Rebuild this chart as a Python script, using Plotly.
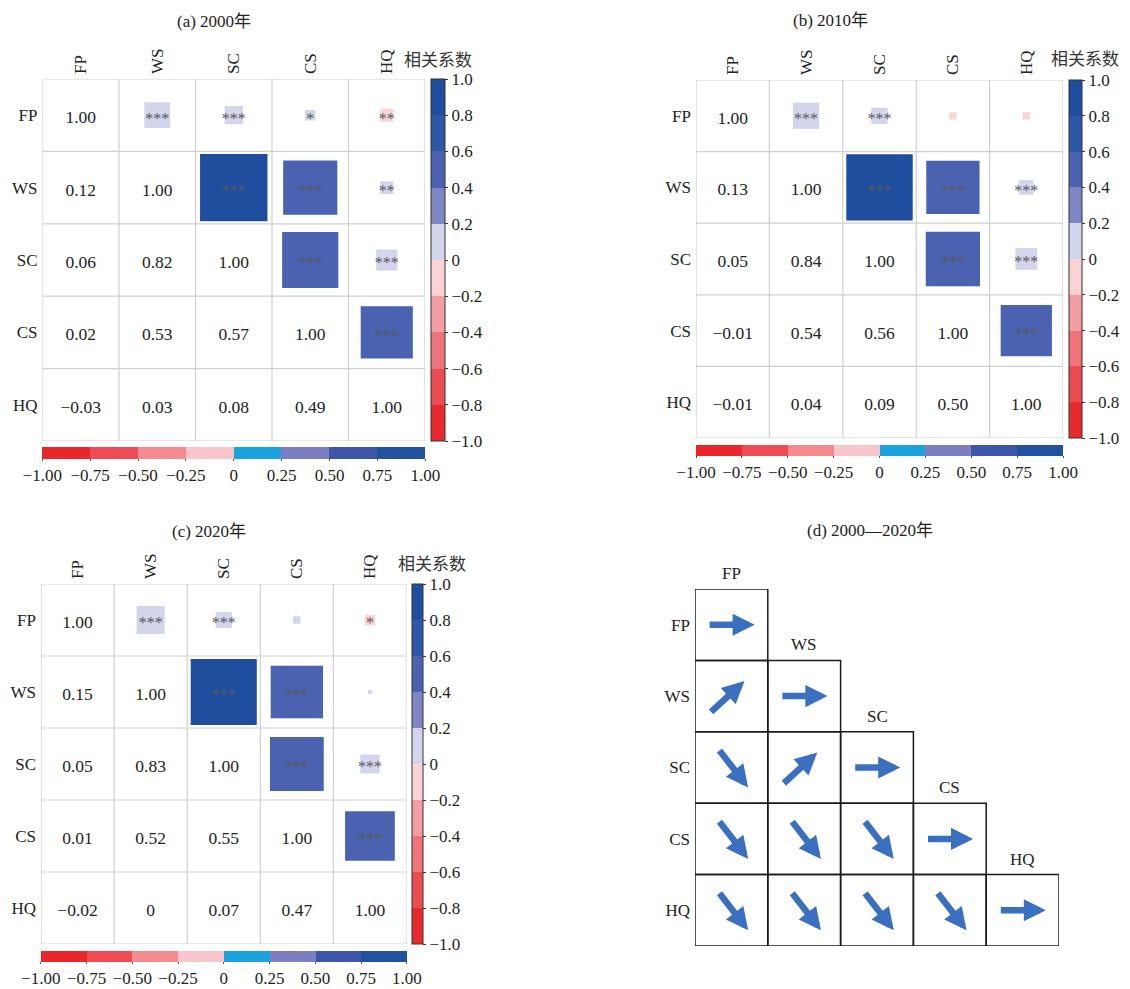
import numpy as np
import plotly.graph_objects as go

W, H = 1130, 989
FONT = "Liberation Serif, 'Noto Sans CJK SC', serif"

VARS = ["FP", "WS", "SC", "CS", "HQ"]

# lower-triangle correlation coefficients (row i, columns 0..i-1)
R2000_LOWER = [[0.12], [0.06, 0.82], [0.02, 0.53, 0.57], [-0.03, 0.03, 0.08, 0.49]]
R2010_LOWER = [[0.13], [0.05, 0.84], [-0.01, 0.54, 0.56], [-0.01, 0.04, 0.09, 0.50]]
R2020_LOWER = [[0.15], [0.05, 0.83], [0.01, 0.52, 0.55], [-0.02, 0.00, 0.07, 0.47]]

# significance marks for upper triangle (row i, columns i+1..4)
SIG2000 = [["***", "***", "*", "**"], ["***", "***", "**"], ["***", "***"], ["***"]]
SIG2010 = [["***", "***", "", ""], ["***", "***", "***"], ["***", "***"], ["***"]]
SIG2020 = [["***", "***", "", "*"], ["***", "***", ""], ["***", "***"], ["***"]]

TITLES = ["(a) 2000年", "(b) 2010年", "(c) 2020年"]
TITLE_D = "(d) 2000—2020年"
CB_TITLE = "相关系数"

RIGHT_TICKS = [1.0, 0.8, 0.6, 0.4, 0.2, 0.0, -0.2, -0.4, -0.6, -0.8, -1.0]
BOTTOM_TICKS = [-1.0, -0.75, -0.5, -0.25, 0.0, 0.25, 0.5, 0.75, 1.0]

# trend of correlation 2000-2020 (lower triangle incl. diagonal)
TREND = [["flat"],
         ["up", "flat"],
         ["down", "up", "flat"],
         ["down", "down", "down", "flat"],
         ["down", "down", "down", "down", "flat"]]

RIGHT_COLORS = ["#E82A2E", "#EB4C52", "#EF7378", "#F39EA2", "#FBD3D4",
                "#D3D5EC", "#7F86C4", "#4A62B0", "#2D57A7", "#1F4E9E"]
BOTTOM_COLORS = ["#E8262B", "#EE4B55", "#F28A8F", "#F8C6CA",
                 "#1BA4DC", "#7B7FC0", "#3E56A9", "#2152A0"]


def discrete_scale(colors):
    n = len(colors)
    cs = []
    for k, c in enumerate(colors):
        cs.append([k / n, c])
        cs.append([(k + 1) / n, c])
    return cs


def fmt(v):
    if v == 0:
        return "0"
    return f"{v:.2f}".replace("-", "\u2212")


def fmt_tick(v, nd):
    if abs(v) < 1e-9:
        return "0"
    return f"{v:.{nd}f}".replace("-", "\u2212")


def full_matrix(lower):
    n = len(VARS)
    m = np.eye(n)
    for i, row in enumerate(lower):
        for j, v in enumerate(row):
            m[i + 1, j] = v
            m[j, i + 1] = v
    return m


# panel geometry in pixels
PANELS = [
    dict(grid=(42.5, 79, 425, 441), rcb=(430.5, 444.5), bcb=(447, 459),
         title=(214, 21), cbt=(438, 61)),
    dict(grid=(696, 80, 1063, 438), rcb=(1069, 1082), bcb=(445, 456),
         title=(830, 20), cbt=(1085, 59)),
    dict(grid=(41, 584, 406.5, 944), rcb=(411.5, 422.5), bcb=(951, 962),
         title=(209, 531), cbt=(432, 564)),
]
GRID_D = (695, 589, 1059, 946)

fig = go.Figure()
shapes = []
annotations = []
layout_axes = {}

data_sets = [(R2000_LOWER, SIG2000), (R2010_LOWER, SIG2010), (R2020_LOWER, SIG2020)]
n = len(VARS)
centers = [k + 0.5 for k in range(n)]


def text_ann(x, y, text, color="#222", size=17):
    return dict(x=x / W, y=1 - y / H, xref="paper", yref="paper", text=text,
                showarrow=False, xanchor="center", yanchor="middle",
                font=dict(family=FONT, size=size, color=color))


for p, ((lower, sig), geo) in enumerate(zip(data_sets, PANELS)):
    idx = p + 1
    xa, ya = f"x{idx}", f"y{idx}"
    gx0, gy0, gx1, gy1 = geo["grid"]
    cw, chh = (gx1 - gx0) / n, (gy1 - gy0) / n
    cell = (cw + chh) / 2
    M = full_matrix(lower)

    layout_axes[f"xaxis{idx}"] = dict(
        domain=[gx0 / W, gx1 / W], range=[0, n], side="top", anchor=ya,
        tickmode="array", tickvals=centers, ticktext=VARS, tickangle=-90,
        ticks="", showgrid=False, zeroline=False, showline=False,
        tickfont=dict(family=FONT, size=17, color="#222"), fixedrange=True,
        automargin=False, ticklabelstandoff=4)
    layout_axes[f"yaxis{idx}"] = dict(
        domain=[1 - gy1 / H, 1 - gy0 / H], range=[n, 0], anchor=xa,
        tickmode="array", tickvals=centers, ticktext=VARS,
        ticks="", showgrid=False, zeroline=False, showline=False,
        tickfont=dict(family=FONT, size=17, color="#222"), fixedrange=True,
        automargin=False, ticklabelstandoff=4)

    for k in range(n + 1):
        shapes.append(dict(type="line", xref=xa, yref=ya, x0=k, x1=k, y0=0, y1=n,
                           line=dict(color="#CFCFCF", width=1.2), layer="below"))
        shapes.append(dict(type="line", xref=xa, yref=ya, x0=0, x1=n, y0=k, y1=k,
                           line=dict(color="#CFCFCF", width=1.2), layer="below"))

    # upper triangle squares
    ux, uy, uv, us, ut = [], [], [], [], []
    for i in range(n):
        for j in range(i + 1, n):
            v = M[i, j]
            ux.append(j + 0.5)
            uy.append(i + 0.5)
            uv.append(v)
            us.append(max(np.sqrt(abs(v)) * cell, 4))
            ut.append(sig[i][j - i - 1])

    rx0, rx1 = geo["rcb"]
    fig.add_trace(go.Scatter(
        x=ux, y=uy, xaxis=xa, yaxis=ya, mode="markers", hoverinfo="skip",
        showlegend=False,
        marker=dict(symbol="square", size=us, color=uv, opacity=1,
                    colorscale=discrete_scale(RIGHT_COLORS),
                    cmin=-1, cmax=1, line=dict(width=0), showscale=True,
                    colorbar=dict(
                        x=rx0 / W, xanchor="left", xpad=0,
                        y=1 - (gy0 + gy1) / 2 / H, yanchor="middle", ypad=0,
                        len=gy1 - gy0, lenmode="pixels",
                        thickness=rx1 - rx0, thicknessmode="pixels",
                        outlinewidth=1, outlinecolor="#333",
                        tickmode="array", tickvals=RIGHT_TICKS,
                        ticktext=[fmt_tick(t, 1) for t in RIGHT_TICKS],
                        ticks="outside", ticklen=3, tickcolor="#333",
                        tickfont=dict(family=FONT, size=17, color="#222")))))

    # stars
    fig.add_trace(go.Scatter(
        x=ux, y=[y + 0.06 for y in uy], xaxis=xa, yaxis=ya, mode="text", text=ut,
        hoverinfo="skip", showlegend=False,
        textfont=dict(family=FONT, size=16, color="#5A5A5A")))

    # bottom colour bar (separate scale)
    by0, by1 = geo["bcb"]
    fig.add_trace(go.Scatter(
        x=ux, y=uy, xaxis=xa, yaxis=ya, mode="markers", hoverinfo="skip",
        showlegend=False,
        marker=dict(size=1, opacity=0, color=uv, colorscale=discrete_scale(BOTTOM_COLORS),
                    cmin=-1, cmax=1, showscale=True,
                    colorbar=dict(
                        orientation="h",
                        x=(gx0 + gx1) / 2 / W, xanchor="center", xpad=0,
                        y=1 - by0 / H, yanchor="top", ypad=0,
                        len=gx1 - gx0, lenmode="pixels",
                        thickness=by1 - by0, thicknessmode="pixels",
                        outlinewidth=0,
                        tickmode="array", tickvals=BOTTOM_TICKS,
                        ticktext=[fmt_tick(t, 2) for t in BOTTOM_TICKS],
                        ticks="outside", ticklen=2, tickcolor="#555",
                        tickfont=dict(family=FONT, size=17, color="#222")))))

    # lower triangle + diagonal numbers
    lx, ly, lt = [], [], []
    for i in range(n):
        for j in range(0, i + 1):
            lx.append(j + 0.5)
            ly.append(i + 0.55)
            lt.append("1.00" if i == j else fmt(M[i, j]))
    fig.add_trace(go.Scatter(
        x=lx, y=ly, xaxis=xa, yaxis=ya, mode="text", text=lt,
        hoverinfo="skip", showlegend=False,
        textfont=dict(family=FONT, size=17.5, color="#222")))

    tx, ty = geo["title"]
    annotations.append(text_ann(tx, ty, TITLES[p]))
    cx, cy = geo["cbt"]
    annotations.append(text_ann(cx, cy, CB_TITLE, color="#333"))

# panel (d)
dx0, dy0, dx1, dy1 = GRID_D
layout_axes["xaxis4"] = dict(domain=[dx0 / W, dx1 / W], range=[0, n], anchor="y4",
                             visible=False, fixedrange=True)
layout_axes["yaxis4"] = dict(domain=[1 - dy1 / H, 1 - dy0 / H], range=[n, 0], anchor="x4",
                             tickmode="array", tickvals=centers, ticktext=VARS, ticks="",
                             showgrid=False, zeroline=False, showline=False,
                             tickfont=dict(family=FONT, size=17, color="#222"),
                             fixedrange=True, automargin=False, ticklabelstandoff=4)
# invisible anchor trace so the axes are drawn
fig.add_trace(go.Scatter(x=centers, y=centers, xaxis="x4", yaxis="y4", mode="markers",
                         marker=dict(opacity=0), hoverinfo="skip", showlegend=False))

ARROW_VEC = {"flat": ((0.18, 0.50), (0.82, 0.50)),
             "up": ((0.20, 0.74), (0.68, 0.29)),
             "down": ((0.32, 0.24), (0.73, 0.78))}

for i in range(n):
    for j in range(i + 1):
        shapes.append(dict(type="rect", xref="x4", yref="y4", x0=j, x1=j + 1, y0=i, y1=i + 1,
                           line=dict(color="#1A1A1A", width=1.5)))
        (tx0, ty0), (tx1, ty1) = ARROW_VEC[TREND[i][j]]
        annotations.append(dict(x=j + tx1, y=i + ty1, ax=j + tx0, ay=i + ty0,
                                xref="x4", yref="y4", axref="x4", ayref="y4",
                                text="", showarrow=True, arrowhead=2, arrowsize=0.68,
                                arrowwidth=6.5, arrowcolor="#3A70BF", standoff=0))
    annotations.append(dict(x=i + 0.5, y=i, xref="x4", yref="y4", text=VARS[i],
                            showarrow=False, xanchor="center", yanchor="bottom", yshift=4,
                            font=dict(family=FONT, size=17, color="#222")))

annotations.append(text_ann(870, 530, TITLE_D))

fig.update_layout(
    width=W, height=H,
    margin=dict(l=0, r=0, t=0, b=0, autoexpand=False),
    paper_bgcolor="white", plot_bgcolor="white",
    shapes=shapes, annotations=annotations,
    **layout_axes)

fig.write_html("out.html", config={"displayModeBar": False},
               post_script="document.body.style.margin='0';document.body.style.overflow='hidden';")
